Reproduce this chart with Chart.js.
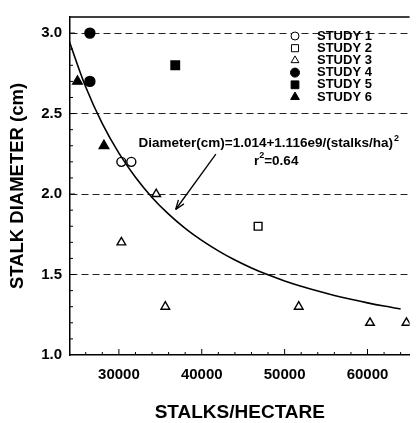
<!DOCTYPE html>
<html>
<head>
<meta charset="utf-8">
<script src="https://cdn.jsdelivr.net/npm/chart.js@4.4.0/dist/chart.umd.min.js"></script>
<style>
  body { margin: 0; background: #fff; }
  canvas { display: block; }
</style>
</head>
<body>
<canvas id="stalkChart" width="417" height="423"></canvas>
<script>
// stalks per hectare vs stalk diameter (cm), one pair of arrays per study
const study1X = [30300, 31500];
const study1Y = [2.2, 2.2];
const study2X = [46800];
const study2Y = [1.8];
const study3X = [30300, 34500, 35600, 51700, 60300, 64700];
const study3Y = [1.7, 2.0, 1.3, 1.3, 1.2, 1.2];
const study4X = [26500, 26500];
const study4Y = [3.0, 2.7];
const study5X = [36800];
const study5Y = [2.8];
const study6X = [25000, 28200];
const study6Y = [2.7, 2.3];

// fitted curve
const fitX = [24000, 26000, 28000, 30000, 32000, 34000, 36000, 38000, 40000, 42000,
              44000, 46000, 48000, 50000, 52000, 54000, 56000, 58000, 60000, 62000, 64000];
const fitY = [2.951, 2.665, 2.437, 2.254, 2.104, 1.979, 1.875, 1.787, 1.712, 1.647,
              1.590, 1.541, 1.498, 1.460, 1.427, 1.397, 1.370, 1.346, 1.324, 1.304, 1.286];

const xTicks = [30000, 40000, 50000, 60000];
const yTicks = [1.0, 1.5, 2.0, 2.5, 3.0];
const studyNames = ['STUDY 1', 'STUDY 2', 'STUDY 3', 'STUDY 4', 'STUDY 5', 'STUDY 6'];

const FONT = '"Liberation Sans", Arial, Helvetica, sans-serif';
Chart.defaults.font.family = FONT;
Chart.defaults.color = '#000';

function pairs(xs, ys) {
    return xs.map((x, i) => ({ x: x, y: ys[i] }));
}

// marker look for each study (shared by points and legend)
const markers = [
    { style: 'circle',   fill: '#fff', r: 4.5, lr: 4 },
    { style: 'rect',     fill: '#fff', r: 5.5, lr: 5 },
    { style: 'triangle', fill: '#fff', r: 5,   lr: 4.5 },
    { style: 'circle',   fill: '#000', r: 5,   lr: 4.5 },
    { style: 'rect',     fill: '#000', r: 6,   lr: 5.5 },
    { style: 'triangle', fill: '#000', r: 5.5, lr: 5 }
];
const studyData = [
    pairs(study1X, study1Y), pairs(study2X, study2Y), pairs(study3X, study3Y),
    pairs(study4X, study4Y), pairs(study5X, study5Y), pairs(study6X, study6Y)
];

const datasets = studyData.map((d, i) => ({
    label: studyNames[i],
    data: d,
    pointStyle: markers[i].style,
    pointRadius: markers[i].r,
    pointBackgroundColor: markers[i].fill,
    pointBorderColor: '#000',
    pointBorderWidth: 1.4,
    showLine: false
}));
datasets.unshift({
    label: 'fit',
    data: pairs(fitX, fitY),
    showLine: true,
    borderColor: '#000',
    borderWidth: 1.6,
    pointRadius: 0,
    tension: 0.4
});

// legend, equation, arrow, frame and minor ticks
const extras = {
    id: 'extras',
    afterDatasetsDraw(chart) {
        const ctx = chart.ctx;
        const xs = chart.scales.x, ys = chart.scales.y;
        const area = chart.chartArea;
        ctx.save();
        ctx.strokeStyle = '#000';
        ctx.fillStyle = '#000';

        // top frame line
        ctx.lineWidth = 1.5;
        ctx.beginPath();
        ctx.moveTo(area.left, area.top);
        ctx.lineTo(area.right, area.top);
        ctx.stroke();

        // minor ticks, pointing inwards
        ctx.lineWidth = 1;
        for (let v = 26000; v <= 64000; v += 2000) {
            const px = xs.getPixelForValue(v);
            const len = v % 10000 === 0 ? 6 : 3;
            ctx.beginPath();
            ctx.moveTo(px, area.bottom);
            ctx.lineTo(px, area.bottom - len);
            ctx.stroke();
        }
        for (let k = 11; k <= 30; k++) {
            const py = ys.getPixelForValue(k / 10);
            const len = k % 5 === 0 ? 5 : 3;
            ctx.beginPath();
            ctx.moveTo(area.left, py);
            ctx.lineTo(area.left + len, py);
            ctx.stroke();
        }

        // legend
        ctx.font = 'bold 13px ' + FONT;
        ctx.textBaseline = 'middle';
        ctx.textAlign = 'left';
        studyNames.forEach((name, i) => {
            const y = 36 + i * 12.2;
            ctx.fillStyle = markers[i].fill;
            ctx.strokeStyle = '#000';
            Chart.helpers.drawPoint(ctx, {
                pointStyle: markers[i].style, radius: markers[i].lr, borderWidth: 1.4, rotation: 0
            }, 295, y);
            ctx.fillStyle = '#000';
            ctx.fillText(name, 317, y);
        });

        // equation text
        const eqX = xs.getPixelForValue(32370), eqY = ys.getPixelForValue(2.314);
        const eq = 'Diameter(cm)=1.014+1.116e9/(stalks/ha)';
        ctx.font = 'bold 13.5px ' + FONT;
        ctx.fillText(eq, eqX, eqY);
        const eqW = ctx.measureText(eq).width;
        ctx.font = 'bold 9px ' + FONT;
        ctx.fillText('2', eqX + eqW + 1, eqY - 5);

        const rX = xs.getPixelForValue(46300), rY = ys.getPixelForValue(2.206);
        ctx.font = 'bold 13.5px ' + FONT;
        ctx.fillText('r', rX, rY);
        const rW = ctx.measureText('r').width;
        ctx.font = 'bold 9px ' + FONT;
        ctx.fillText('2', rX + rW, rY - 5);
        ctx.font = 'bold 13.5px ' + FONT;
        ctx.fillText('=0.64', rX + rW + 5, rY);

        // arrow from equation down to the curve
        const ax0 = xs.getPixelForValue(41700), ay0 = ys.getPixelForValue(2.248);
        const ax1 = xs.getPixelForValue(36850), ay1 = ys.getPixelForValue(1.904);
        ctx.lineWidth = 1.3;
        ctx.beginPath();
        ctx.moveTo(ax0, ay0);
        ctx.lineTo(ax1, ay1);
        ctx.stroke();
        const ang = Math.atan2(ay1 - ay0, ax1 - ax0);
        ctx.beginPath();
        ctx.moveTo(ax1, ay1);
        ctx.lineTo(ax1 - 10 * Math.cos(ang - 0.35), ay1 - 10 * Math.sin(ang - 0.35));
        ctx.moveTo(ax1, ay1);
        ctx.lineTo(ax1 - 10 * Math.cos(ang + 0.35), ay1 - 10 * Math.sin(ang + 0.35));
        ctx.stroke();
        ctx.restore();
    }
};

const ctx = document.getElementById('stalkChart').getContext('2d');
const stalkChart = new Chart(ctx, {
    type: 'scatter',
    data: { datasets: datasets },
    options: {
        responsive: false,
        animation: false,
        layout: { padding: { top: 7, right: 0, left: 0, bottom: 0 } },
        plugins: { legend: { display: false }, tooltip: { enabled: false } },
        scales: {
            x: {
                type: 'linear',
                min: 24100,
                max: 65080,
                afterBuildTicks: (scale) => { scale.ticks = xTicks.map(v => ({ value: v })); },
                afterFit: (scale) => { scale.height = 68; },
                grid: { display: false, drawTicks: false },
                border: { display: true, color: '#000', width: 1.5 },
                ticks: {
                    padding: 11,
                    maxRotation: 0,
                    font: { size: 15, weight: 'bold' },
                    callback: (v) => String(v)
                },
                title: {
                    display: true,
                    text: 'STALKS/HECTARE',
                    font: { size: 19, weight: 'bold', lineHeight: 1 },
                    padding: { top: 0, bottom: 1 }
                }
            },
            y: {
                min: 1.0,
                max: 3.1,
                afterBuildTicks: (scale) => { scale.ticks = yTicks.map(v => ({ value: v })); },
                afterFit: (scale) => { scale.width = 70; },
                grid: {
                    drawTicks: false,
                    color: (c) => (c.tick && c.tick.value > 1.01) ? '#222' : 'rgba(0,0,0,0)',
                    lineWidth: 1
                },
                border: { display: true, color: '#000', width: 1.5, dash: [7, 4] },
                ticks: {
                    padding: 8,
                    font: { size: 15, weight: 'bold' },
                    callback: (v) => Number(v).toFixed(1)
                },
                title: {
                    display: true,
                    text: 'STALK DIAMETER (cm)',
                    font: { size: 18.5, weight: 'bold', lineHeight: 1 },
                    padding: { top: 9, bottom: 0 }
                }
            }
        }
    },
    plugins: [extras]
});
</script>
</body>
</html>
